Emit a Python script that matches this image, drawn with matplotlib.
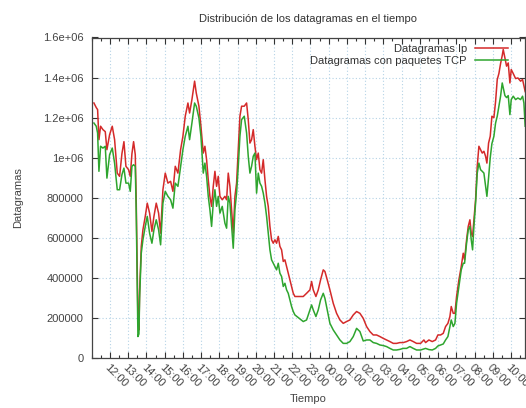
import numpy as np
import matplotlib
matplotlib.use("Agg")
import matplotlib.pyplot as plt
from matplotlib.ticker import FixedLocator, MultipleLocator

plt.rcParams["font.family"] = ["Liberation Sans", "DejaVu Sans"]
plt.rcParams["font.size"] = 8

# hours since 00:00 of the first day (values past 24 are the next morning)
hours = [11.122, 11.250, 11.324, 11.397, 11.488, 11.616, 11.744, 11.835, 11.982, 12.128,
         12.256, 12.402, 12.530, 12.658, 12.768, 12.878, 13.024, 13.115, 13.207, 13.298,
         13.390, 13.444, 13.499, 13.536, 13.591, 13.628, 13.719, 13.810, 13.938, 14.048,
         14.176, 14.304, 14.414, 14.541, 14.670, 14.780, 14.907, 15.035, 15.182, 15.328,
         15.456, 15.584, 15.730, 15.877, 16.004, 16.132, 16.279, 16.370, 16.498, 16.645,
         16.736,
         16.882, 16.992, 17.120, 17.211, 17.303, 17.394, 17.485, 17.577, 17.668, 17.760,
         17.851, 17.942, 18.034, 18.162, 18.308, 18.400, 18.491, 18.583, 18.674, 18.765,
         18.857, 18.948, 19.040, 19.131, 19.223, 19.369, 19.497, 19.588, 19.680, 19.771,
         19.862, 19.954, 20.045, 20.137, 20.228, 20.320, 20.411, 20.503, 20.594, 20.685,
         20.777, 20.868, 20.960, 21.051, 21.143, 21.234, 21.325, 21.417, 21.508, 21.600,
         21.691, 21.782, 21.874, 21.965, 22.057, 22.148,
         22.605, 22.788, 22.971, 23.063, 23.154, 23.300, 23.428, 23.556, 23.702, 23.794,
         23.922, 24.068, 24.251, 24.434, 24.617, 24.799, 24.982, 25.165, 25.348, 25.531,
         25.714, 25.896, 26.080, 26.262, 26.445, 26.628, 26.811, 26.994, 27.177, 27.359,
         27.542, 27.725, 27.908, 28.091, 28.274, 28.456, 28.639, 28.822,
         29.042, 29.224, 29.316, 29.499, 29.681, 29.864, 29.992, 30.139, 30.285, 30.413,
         30.541, 30.650, 30.724, 30.833, 30.925, 31.016, 31.144, 31.272, 31.382, 31.455,
         31.565, 31.656, 31.748, 31.821, 31.894, 31.967, 32.059, 32.150, 32.241, 32.333,
         32.424, 32.516, 32.607, 32.680, 32.772, 32.863, 32.954, 33.064, 33.156, 33.247,
         33.338, 33.430, 33.521, 33.576, 33.668, 33.759, 33.850, 33.942, 34.015, 34.125,
         34.253, 34.381, 34.527, 34.637, 34.710, 34.780]

# datagramas IP (miles)
ip_k = [1273, 1250, 1240, 1090, 1157, 1140, 1130, 1040, 1115, 1157,
        1090, 923, 907, 1020, 1080, 957, 940, 907, 1020, 1080,
        1015, 773, 450, 200, 140, 330, 557, 640, 707, 773,
        723, 632, 707, 773, 723, 623, 840, 923, 873, 882,
        832, 957, 923, 1040, 1107, 1207, 1273, 1223, 1290, 1382,
        1323,
        1257, 1157, 1023, 1057, 990, 890, 807, 757, 857, 932,
        857, 907, 807, 790, 807, 790, 923, 857, 740, 623,
        807, 873, 1040, 1207, 1257, 1257, 1273, 1190, 1073, 1090,
        1140, 1057, 990, 1023, 940, 923, 990, 890, 807, 757,
        657, 590, 573, 590, 573, 607, 557, 540, 482, 490,
        457, 423, 390, 357, 323, 307,
        307, 323, 340, 382, 340, 307, 340, 390, 440, 432,
        390, 340, 273, 223, 190, 173, 182, 190, 215, 232,
        223, 198, 157, 132, 115, 115, 107, 98, 90, 82,
        73, 73, 77, 77, 82, 90, 82, 73,
        73, 90, 77, 90, 82, 90, 115, 115, 123, 157,
        173, 207, 257, 223, 223, 307, 390, 457, 523, 490,
        590, 657, 690, 623, 607, 690, 790, 957, 1057, 1040,
        1023, 1032, 1007, 973, 1073, 1107, 1207, 1200, 1280, 1390,
        1420, 1470, 1510, 1540, 1498, 1457, 1473, 1373, 1440, 1420,
        1395, 1398, 1382, 1390, 1360, 1330]

# datagramas con paquetes TCP (miles)
tcp_k = [1173, 1157, 1123, 932, 1057, 1048, 1057, 898, 1015, 1048,
         973, 840, 840, 915, 948, 873, 873, 832, 957, 965,
         957, 723, 350, 107, 120, 300, 523, 590, 657, 707,
         623, 573, 640, 690, 640, 565, 773, 832, 807, 790,
         748, 873, 857, 957, 1040, 1107, 1157, 1090, 1173, 1273,
         1257,
         1198, 1107, 923, 973, 907, 807, 740, 657, 773, 840,
         757, 807, 723, 757, 673, 648, 807, 773, 657, 548,
         740, 823, 957, 1107, 1190, 1207, 1123, 1007, 923, 957,
         1007, 1023, 823, 923, 873, 857, 823, 773, 707, 623,
         540, 490, 473, 457, 440, 473, 423, 407, 357, 373,
         340, 323, 290, 257, 232, 215,
         182, 190, 240, 265, 240, 207, 240, 290, 323, 298,
         240, 173, 140, 115, 90, 73, 73, 82, 107, 148,
         132, 85, 90, 90, 77, 73, 65, 62, 57, 48,
         40, 40, 43, 48, 48, 57, 48, 40,
         40, 45, 48, 42, 40, 48, 60, 65, 70, 90,
         107, 157, 190, 157, 173, 273, 357, 440, 473, 473,
         573, 640, 657, 590, 540, 657, 773, 923, 973, 940,
         932, 923, 857, 807, 900, 1000, 1070, 1107, 1173, 1207,
         1257, 1307, 1373, 1350, 1310, 1300, 1310, 1215, 1290, 1307,
         1290, 1298, 1290, 1307, 1273, 1157]

hour_ticks = list(range(12, 35))
y_ticks = [0, 200000, 400000, 600000, 800000, 1000000, 1200000, 1400000, 1600000]
y_labels = ["0", "200000", "400000", "600000", "800000", "1e+06", "1.2e+06", "1.4e+06", "1.6e+06"]

t = np.array(hours)
ip = np.array(ip_k) * 1000
tcp = np.array(tcp_k) * 1000

fig = plt.figure(figsize=(5.26, 4.08), dpi=100)
ax = fig.add_axes([91.7 / 526, 1 - 358 / 408, (525 - 91.7) / 526, (358 - 37.5) / 408])

ax.plot(t, ip, color="#d42a2a", lw=1.1, label="Datagramas Ip")
ax.plot(t, tcp, color="#2ea52e", lw=1.1, label="Datagramas con paquetes TCP")

ax.set_xlim(11.0, 34.77)
ax.set_ylim(0, 1600000)

ax.xaxis.set_major_locator(FixedLocator(hour_ticks))
ax.xaxis.set_minor_locator(MultipleLocator(0.5))
ax.set_xticklabels(["%02d:00" % (h % 24) for h in hour_ticks],
                   rotation=-45, ha="left", va="top", rotation_mode="anchor")
ax.set_yticks(y_ticks)
ax.set_yticklabels(y_labels)

ax.tick_params(which="both", direction="in", top=True, right=True, colors="#333333",
               labelcolor="#444444", width=0.8)
ax.tick_params(which="major", length=4)
ax.tick_params(axis="y", which="major", pad=6)
ax.tick_params(axis="x", which="major", pad=3)
ax.tick_params(which="minor", length=2)

ax.grid(True, which="major", color="#b5d3e6", linestyle=(0, (1, 2)), linewidth=0.8)
for s in ax.spines.values():
    s.set_color("#444444")
    s.set_linewidth(0.9)

ax.set_title("Distribución de los datagramas en el tiempo", color="#333333",
             fontsize=8, pad=11)
ax.set_xlabel("Tiempo", color="#444444", labelpad=4)
ax.set_ylabel("Datagramas", color="#444444", labelpad=14)

ax.legend(loc="upper right", bbox_to_anchor=(0.984, 1.01), frameon=False,
          markerfirst=False, handlelength=3.0, handletextpad=0.7,
          labelspacing=0.15, fontsize=8, labelcolor="#333333")

fig.savefig("out.png", dpi=100)
